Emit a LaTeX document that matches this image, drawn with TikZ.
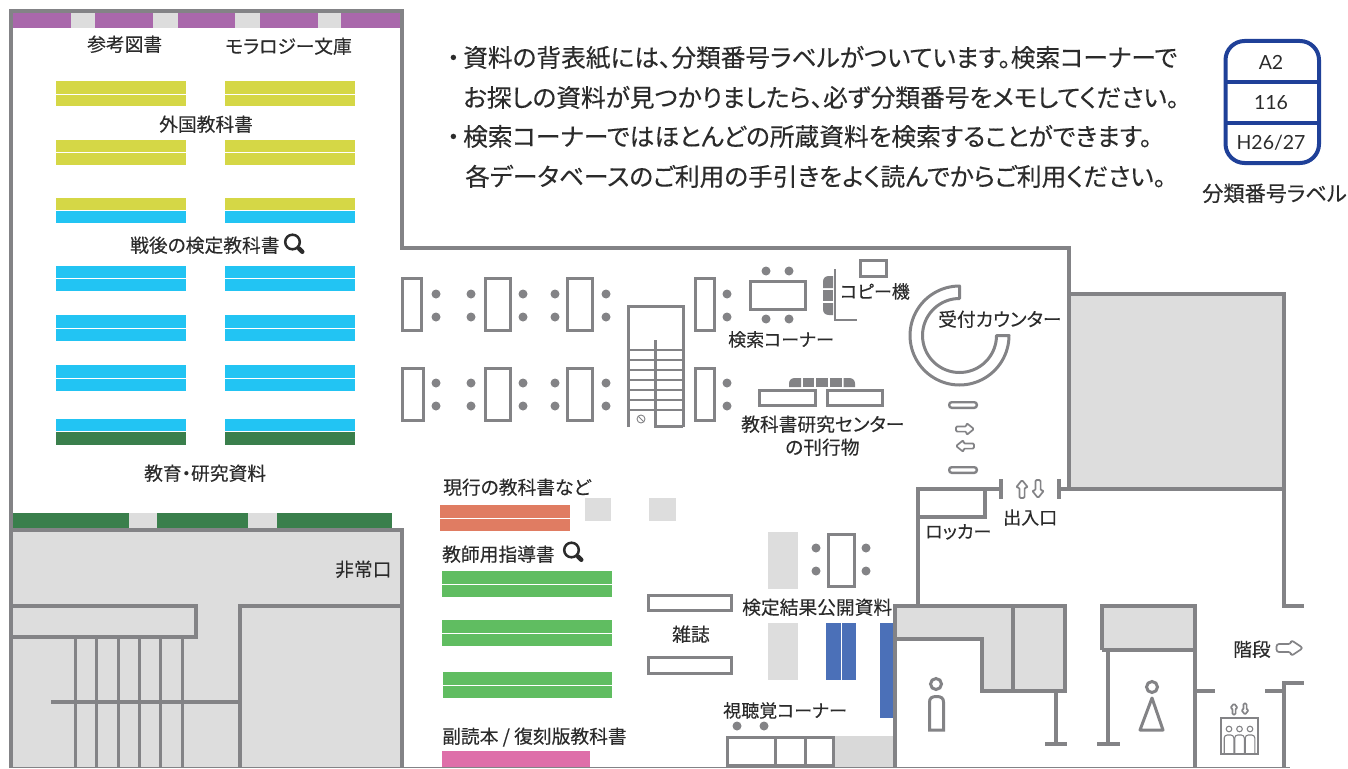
\documentclass[tikz,border=0pt]{standalone}
\usepackage{fontspec}
\setmainfont[RawFeature=+palt,FakeBold=0.25]{Noto Sans CJK JP}
\newfontfamily\latinlab{Lato}
\definecolor{wall}{HTML}{838386}
\definecolor{fillg}{HTML}{DDDDDD}
\definecolor{fillh}{HTML}{D9D9D9}
\definecolor{ink}{HTML}{2B2B2B}
\definecolor{purp}{HTML}{A968AB}
\definecolor{yel}{HTML}{D5D746}
\definecolor{cyn}{HTML}{22C4F3}
\definecolor{dgreen}{HTML}{3A7F4C}
\definecolor{lgreen}{HTML}{60BD61}
\definecolor{orng}{HTML}{E07C62}
\definecolor{pnk}{HTML}{DE6FA9}
\definecolor{blu}{HTML}{4B70B8}
\definecolor{navy}{HTML}{1F4098}
\tikzset{
  wallline/.style={draw=wall,line width=4pt},
  midline/.style={draw=wall,line width=3pt},
  thinline/.style={draw=wall,line width=1.6pt},
  dot/.style={fill=wall,draw=none},
  lab/.style={inner sep=0pt,anchor=west,text=ink,text height=.88em,text depth=.12em,yshift=-3.5pt,font=\fontsize{18.75}{18.75}\selectfont},
  smalllab/.style={lab,font=\fontsize{18}{18}\selectfont},
  biglab/.style={lab,yshift=0pt,font=\fontsize{21.2}{21.2}\selectfont},
  bigtxt/.style={lab,yshift=-1.5pt,font=\fontsize{24.7}{24.7}\selectfont},
  cardtxt/.style={inner sep=0pt,text=ink,font=\latinlab\fontsize{19.5}{19.5}\selectfont},
  arrowline/.style={draw=wall,line width=1.7pt,fill=white,rounded corners=1.2pt,line join=round},
  divider/.style={draw=white,line width=1pt}
}
\newcommand{\shelfrow}[5]{%
  \foreach \xa/\xb in {56/186,225/355}{
    \fill[#3] (\xa,#1) rectangle (\xb,#5);
    \fill[#4] (\xa,#5) rectangle (\xb,#2);
    \draw[divider] (\xa,#5) -- (\xb,#5);
  }}
\newcommand{\stooldots}[1]{%
  \foreach \dx in {#1}{
    \fill[dot] (\dx,294) circle (4.5);
    \fill[dot] (\dx,317) circle (4.5);
    \fill[dot] (\dx,383) circle (4.5);
    \fill[dot] (\dx,406) circle (4.5);
  }}
\newcommand{\magnifier}[2]{%
  \draw[ink,line width=2.5pt] (#1,#2) circle (7.3);
  \draw[ink,line width=4.4pt,line cap=round] (#1+6.5,#2+6.5) -- (#1+9.8,#2+9.8);}
\newcommand{\blockarrow}[4]{%
  \draw[arrowline,shift={(#1,#2)},rotate=#3,scale=#4] (-9,-2.6) -- (1.5,-2.6) -- (1.5,-6) -- (9,0) -- (1.5,6) -- (1.5,2.6) -- (-9,2.6) -- cycle;}
\begin{document}
\begin{tikzpicture}[x=1pt,y=-1pt]
\useasboundingbox (0,0) rectangle (1348,768);
% ---- filled areas ----
\fill[fillg] (11,530) rectangle (402,768);
\fill[fillg] (1069,294) rectangle (1285,489);
\fill[fillg] (895,606) -- (1065,606) -- (1065,691) -- (982,691) -- (982,639) -- (895,639) -- cycle;
\fill[fillg] (1102,606) rectangle (1195,650);
% top purple shelf
\fill[purp] (13,13) rectangle (400,28);
\foreach \a/\b in {71/95,153/178,235/260,318/341} \fill[fillg] (\a,13) rectangle (\b,28);
% bottom green shelf
\fill[dgreen] (13,513) rectangle (392,528);
\foreach \a/\b in {129/157,248/277} \fill[fillg] (\a,513) rectangle (\b,528);
% shelves left room
\shelfrow{81}{106}{yel}{yel}{94}
\shelfrow{140}{165}{yel}{yel}{152.5}
\shelfrow{198}{223}{yel}{cyn}{210.5}
\shelfrow{266}{291}{cyn}{cyn}{278.5}
\shelfrow{315}{341}{cyn}{cyn}{328}
\shelfrow{365}{391}{cyn}{cyn}{378}
\shelfrow{419}{445}{cyn}{dgreen}{431.5}
% shelves centre
\fill[orng] (440,505) rectangle (570,531); \draw[divider] (440,518) -- (570,518);
\fill[fillg] (585,498) rectangle (611,521);
\fill[fillg] (649,498) rectangle (676,521);
\fill[lgreen] (442,571) rectangle (612,597); \draw[divider] (442,584) -- (612,584);
\fill[lgreen] (442,620) rectangle (612,646); \draw[divider] (442,633) -- (612,633);
\fill[lgreen] (443,672) rectangle (612,698); \draw[divider] (443,685) -- (612,685);
\fill[pnk] (442,751) rectangle (590,767);
\fill[fillg] (768,532) rectangle (798,589);
\fill[fillg] (768,623) rectangle (798,680);
\fill[blu] (826,623) rectangle (856,680); \draw[divider] (841,623) -- (841,680);
\fill[blu] (880,623) rectangle (895,718);
\fill[fillh] (835,736) rectangle (893,767);
% ---- walls ----
\draw[wallline] (11,768) -- (11,11) -- (402,11) -- (402,248) -- (1069,248) -- (1069,489);
\draw[wallline] (11,530) -- (402,530) -- (402,768);
\draw[wallline] (11,606) -- (196,606) -- (196,637) -- (11,637);
\draw[wallline] (402,606) -- (240,606) -- (240,768);
\draw[wallline] (51,702) -- (240,702);
\foreach \sx in {75,96,118,139,160,182} \draw[midline] (\sx,637) -- (\sx,768);
\draw[wallline] (1069,294) -- (1284,294) -- (1284,606) -- (1304,606);
\draw[wallline] (1059,489) -- (1284,489);
\draw[wallline] (1059,479) -- (1059,499);
\draw[wallline] (1001,479) -- (1001,499);
\draw[wallline] (1001,489) -- (918,489) -- (918,606);
\draw[wallline] (985,489) -- (985,517) -- (918,517);
% toilets
\draw[wallline] (895,768) -- (895,606) -- (1065,606) -- (1065,691) -- (982,691) -- (982,639) -- (895,639);
\draw[wallline] (1013,606) -- (1013,691);
\draw[wallline] (1056,691) -- (1056,744);
\draw[wallline] (1045,744) -- (1067,744);
\draw[wallline] (1102,650) -- (1102,606) -- (1195,606) -- (1195,768);
\draw[wallline] (1102,650) -- (1195,650);
\draw[wallline] (1108,650) -- (1108,744);
\draw[wallline] (1097,744) -- (1120,744);
\draw[wallline] (1195,691) -- (1215,691);
\draw[wallline] (1265,691) -- (1284,691);
\draw[wallline] (1284,768) -- (1284,683) -- (1304,683);
\draw[draw=wall,line width=1pt] (9,767.5) -- (1290,767.5);
% icons toilets
\draw[midline] (936,684) circle (5.5);
\draw[midline] (929.5,730) -- (929.5,702) .. controls (929.5,698) and (932,696.5) .. (936.5,696.5) .. controls (941,696.5) and (943.5,698) .. (943.5,702) -- (943.5,730) -- cycle;
\draw[midline] (1152,687) circle (5.5);
\draw[midline,line join=round] (1152,698) -- (1163,730) -- (1140,730) -- cycle;
% elevator
\draw[thinline] (1221,718) rectangle (1258,754);
\foreach \ex in {1229,1239.5,1250}{
  \draw[draw=wall,line width=1.1pt] (\ex,729) circle (2.8);
  \draw[draw=wall,line width=1.1pt,rounded corners=3pt] (\ex-4.8,753) -- (\ex-4.8,735) -- (\ex+4.8,735) -- (\ex+4.8,753);
}
\blockarrow{1234}{709}{90}{0.62}
\blockarrow{1245}{709}{-90}{0.62}
% arrows
\blockarrow{1022}{489}{90}{1}
\blockarrow{1038}{489}{-90}{1}
\blockarrow{965}{429}{0}{1}
\blockarrow{965}{446}{180}{1}
\draw[arrowline,rounded corners=2.5pt] (1276.5,644) -- (1291,644) -- (1291,640) -- (1303,648) -- (1291,656) -- (1291,652) -- (1276.5,652) -- cycle;
% reading tables
\foreach \a/\b/\c/\d in {401/423/277/332,484/512/277/332,566/594/277/332,694/716/277/332,401/425/367/422,484/512/367/422,566/594/367/422,694/716/367/422,749/807/280/311,859/888/259/278,758/817/389/407,826/884/389/407,827/856/533/588,647/733/594/612,647/733/656/675,726/835/736/767}
  \draw[midline] (\a+1.5,\c+1.5) rectangle (\b-1.5,\d-1.5);
\draw[midline] (775,736) -- (775,767);
\draw[midline] (805,736) -- (805,767);
\stooldots{436,471,523,555,606,727}
\foreach \dx/\dy in {766/271,789/271,766/319,789/319,816/548,866/548,816/571,866/571,737/726,764/726}
  \fill[dot] (\dx,\dy) circle (4.5);
% chairs
\fill[wall] (823,288) -- (823,281.5) .. controls (823,278) and (825.5,276) .. (829,276) -- (833,276) -- (833,288) -- cycle;
\fill[wall] (823,289.5) rectangle (833,301);
\fill[wall] (823,303) -- (823,309.5) .. controls (823,313) and (825.5,315) .. (829,315) -- (833,315) -- (833,303) -- cycle;
\fill[wall] (789,387) -- (789,383.5) .. controls (789,380) and (791.5,378) .. (795,378) -- (801,378) -- (801,387) -- cycle;
\fill[wall] (803,378) rectangle (814,387);
\fill[wall] (816,378) rectangle (828,387);
\fill[wall] (830,378) rectangle (842,387);
\fill[wall] (855,387) -- (855,383.5) .. controls (855,380) and (852.5,378) .. (849,378) -- (843.5,378) -- (843.5,387) -- cycle;
\draw[draw=wall,line width=2pt] (835,269) -- (835,320) -- (857,320);
% stairs
\draw[midline] (628,427) -- (628,306) -- (683,306) -- (683,427);
\draw[midline] (655,340) -- (655,426) -- (683,426);
\foreach \ty in {350,360,370,380,390,400,410} \draw[draw=wall,line width=1.5pt] (628,\ty) -- (683,\ty);
\draw[draw=wall,line width=.9pt] (641,419) circle (4);
\draw[draw=wall,line width=.9pt] (638.2,416.2) -- (643.8,421.8);
% counter
\draw[midline,line join=round] plot[domain=90:360,samples=70] ({959.5+49.5*cos(\x)},{335.5-49.5*sin(\x)})
  -- plot[domain=360:90,samples=70] ({959.5+37*cos(\x)},{335.5-37*sin(\x)}) -- cycle;
\draw[draw=wall,line width=2.4pt,rounded corners=2.5pt] (949.2,402.2) rectangle (976.8,407.8);
\draw[draw=wall,line width=2.4pt,rounded corners=2.5pt] (949.2,467.2) rectangle (976.8,472.8);
% magnifiers
\magnifier{292.5}{242}
\magnifier{571.5}{550}
% labelled card
\draw[navy,line width=4pt,rounded corners=19pt] (1225.5,41) rectangle (1319,163);
\draw[navy,line width=4pt] (1225.5,82) -- (1319,82);
\draw[navy,line width=4pt] (1225.5,123) -- (1319,123);
\node[cardtxt] (cardA) at (1271,62.5) {A2};
\node[cardtxt] (cardB) at (1271,102.5) {116};
\node[cardtxt] (cardC) at (1271,142.5) {H26/27};
% ---- text ----
\node[lab] (tA) at (87,44) {参考図書};
\node[lab] (tB) at (225,46) {モラロジー文庫};
\node[lab] (tC) at (159,124) {外国教科書};
\node[lab] (tD) at (130,245) {戦後の検定教科書};
\node[lab] (tE) at (144,473) {教育・研究資料};
\node[lab] (tF) at (335,569) {非常口};
\node[smalllab] (tG) at (840,291) {コピー機};
\node[smalllab] (tH) at (728,339) {検索コーナー};
\node[lab] (tI) at (938,319) {受付カウンター};
\node[lab] (tJ) at (741,424) {教科書研究センター};
\node[lab] (tK) at (785,447) {の刊行物};
\node[lab] (tL) at (443,487) {現行の教科書など};
\node[lab] (tM) at (442,554) {教師用指導書};
\node[lab] (tN) at (672,634) {雑誌};
\node[lab] (tO) at (742,607) {検定結果公開資料};
\node[smalllab] (tP) at (723,710) {視聴覚コーナー};
\node[lab] (tQ) at (442,736) {副読本 / 復刻版教科書};
\node[smalllab] (tR) at (925,531) {ロッカー};
\node[smalllab] (tS) at (1003,517) {出入口};
\node[lab] (tT) at (1233,649) {階段};
\node[biglab] (tU) at (1202,194) {分類番号ラベル};
\node[bigtxt] (mA) at (447,58) {\makebox[16pt][l]{・}資料の背表紙には、分類番号ラベルがついています。検索コーナーで};
\node[bigtxt] (mB) at (463,98) {お探しの資料が見つかりましたら、必ず分類番号をメモしてください。};
\node[bigtxt] (mC) at (447,137) {\makebox[16pt][l]{・}検索コーナーではほとんどの所蔵資料を検索することができます。};
\node[bigtxt] (mD) at (465,177) {各データベースのご利用の手引きをよく読んでからご利用ください。};
\end{tikzpicture}
\end{document}
